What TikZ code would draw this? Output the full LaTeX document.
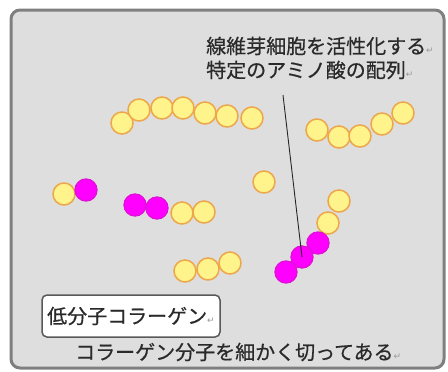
\documentclass[tikz,border=0pt]{standalone}
\usepackage{fontspec}
\newfontfamily\cjk[FakeBold=0.6]{Noto Sans CJK JP}
\newfontfamily\symf{DejaVu Sans}
\definecolor{bgpanel}{HTML}{DEDEDE}
\definecolor{panelborder}{HTML}{7F7F7F}
\definecolor{yfill}{HTML}{FFF48C}
\definecolor{ydraw}{HTML}{EDA64A}
\definecolor{mfill}{HTML}{FF00FF}
\definecolor{mdraw}{HTML}{E010D8}
\definecolor{txt}{HTML}{2A2A2A}
\newcommand{\pmark}{{\symf\fontsize{9}{9}\selectfont\color{gray!80}↵}}
\tikzset{
  yb/.style={circle,draw=ydraw,fill=yfill,line width=1.5pt,minimum size=22pt,inner sep=0pt},
  mb/.style={circle,draw=mdraw,fill=mfill,line width=1.3pt,minimum size=22pt,inner sep=0pt},
  lbl/.style={text=txt,font=\cjk\fontsize{20}{24}\selectfont,inner sep=0pt,anchor=west}
}
\begin{document}
\begin{tikzpicture}[x=1pt,y=-1pt]
\useasboundingbox (0,0) rectangle (448,372);
\node[draw=panelborder,fill=bgpanel,line width=3pt,rounded corners=9pt,minimum width=433pt,minimum height=358pt,inner sep=0pt] (panel) at (227.5,189) {};
% top chain
\node[yb] (a1) at (122,123) {};
\node[yb] (a2) at (139,110) {};
\node[yb] (a3) at (162,108) {};
\node[yb] (a4) at (183,108) {};
\node[yb] (a5) at (205,113) {};
\node[yb] (a6) at (227,116) {};
\node[yb] (a7) at (252,118) {};
% right chain
\node[yb] (b1) at (317,130) {};
\node[yb] (b2) at (339,137) {};
\node[yb] (b3) at (360,136) {};
\node[yb] (b4) at (382,124) {};
\node[yb] (b5) at (403,113) {};
% single
\node[yb] (c1) at (264,182) {};
% left pair
\node[yb] (d1) at (64,194) {};
\node[mb] (d2) at (86,190) {};
% middle row
\node[mb] (e1) at (135,205) {};
\node[mb] (e2) at (157,208) {};
\node[yb] (e3) at (182,213) {};
\node[yb] (e4) at (204,212) {};
% bottom middle
\node[yb] (f1) at (185,271) {};
\node[yb] (f2) at (208,269) {};
\node[yb] (f3) at (230,263) {};
% right diagonal
\node[yb] (g1) at (339,201) {};
\node[yb] (g2) at (328,223) {};
\node[mb] (g3) at (318,243) {};
\node[mb] (g4) at (302,257) {};
\node[mb] (g5) at (286,272) {};
% labels
\node[lbl] (t1) at (206,46) {線維芽細胞を活性化する\pmark};
\node[lbl] (t2) at (206,70) {特定のアミノ酸の配列\pmark};
\coordinate (lp) at (283,95);
\draw[black!85,line width=0.9pt] (lp) -- (g4.center);
\node[draw=black!65,fill=white,line width=1.5pt,rounded corners=5pt,minimum width=178pt,minimum height=42pt,inner sep=0pt] (box) at (131,316) {};
\node[lbl] (t3) at (47,316) {低分子コラーゲン\pmark};
\node[lbl] (t4) at (75,352) {コラーゲン分子を細かく切ってある\pmark};
\end{tikzpicture}
\end{document}
